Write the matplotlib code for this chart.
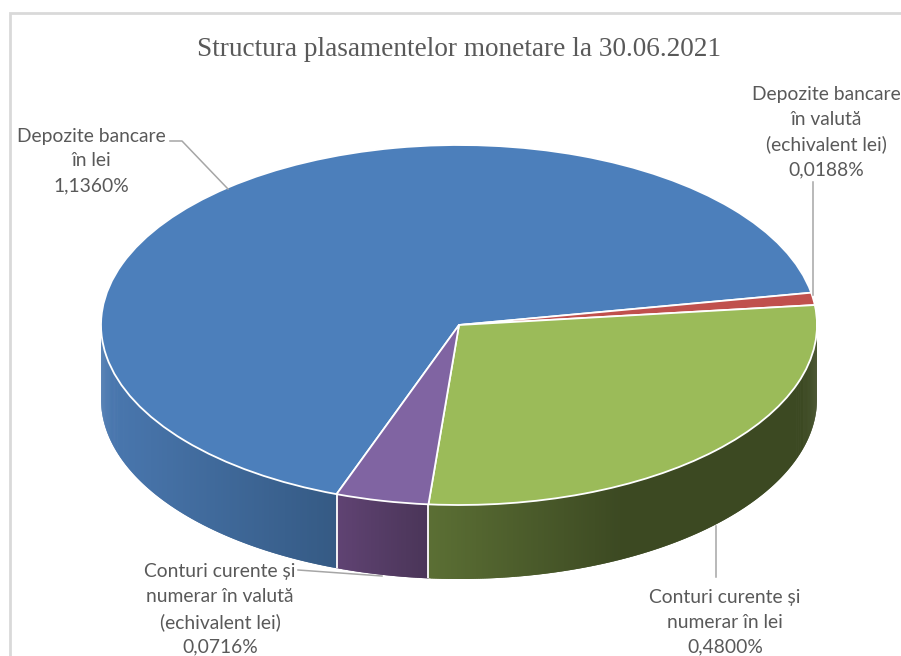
import numpy as np
import matplotlib
matplotlib.use("Agg")
import matplotlib.pyplot as plt
from matplotlib.patches import Polygon
from matplotlib.transforms import Affine2D

title = "Structura plasamentelor monetare la 30.06.2021"
categories = ["Depozite bancare\nîn lei", "Depozite bancare\nîn valută\n(echivalent lei)",
              "Conturi curente și\nnumerar în lei", "Conturi curente și\nnumerar în valută\n(echivalent lei)"]
values = [1.1360, 0.0188, 0.4800, 0.0716]
value_labels = ["1,1360%", "0,0188%", "0,4800%", "0,0716%"]
top_colors = ["#4c7fbb", "#c0504d", "#9bbb59", "#8064a2"]
# wall shading: colour at start of visible wall, colour at end, fraction where ramp ends (left to right)
wall_shades = [("#4a78b0", "#355a84", 1.0), ("#7a3a38", "#7a3a38", 1.0),
               ("#5b6f34", "#3c4922", 0.5), ("#604373", "#4a3558", 1.0)]
label_pos = [(91, 161), (826, 132), (725, 622), (220, 609.5)]
leaders = [[(170, 141), (182, 141), (228, 189)], [(813, 182), (813, 295)],
           [(716, 526), (716, 577)], [(298, 570), (382, 576)]]

CX, CY, RX, RY, DEPTH = 459, 325, 358, 180, 74
TXT = "#595959"

fig = plt.figure(figsize=(9.01, 6.56), dpi=100)
ax = fig.add_axes([0, 0, 1, 1])
wedges, _ = ax.pie(values, startangle=250, counterclock=False, normalize=True,
                   colors=top_colors, wedgeprops=dict(edgecolor="white", linewidth=1.3))
ax.set_aspect("auto")
ax.set_xlim(0, 901)
ax.set_ylim(656, 0)
ax.axis("off")
to_px = Affine2D().scale(RX, -RY).translate(CX, CY) + ax.transData


def hexrgb(c):
    return np.array(matplotlib.colors.to_rgb(c))


def wall(t1, t2, shade):
    """Draw the visible side wall between two pie angles (degrees)."""
    lo, hi = max(t1, 180), min(t2, 360)
    if hi <= lo:
        return
    edges = np.linspace(lo, hi, int((hi - lo) * 3) + 2)
    c0, c1, stop = shade
    xs = np.cos(np.radians(edges))
    span = xs[-1] - xs[0]
    # strips painted left to right, each one overlapping the next, so that no seams show
    for i, a in enumerate(edges[:-1]):
        b = edges[min(i + 2, len(edges) - 1)]
        f = min(((xs[i] + xs[i + 1]) / 2 - xs[0]) / span / stop, 1)
        col = hexrgb(c0) * (1 - f) + hexrgb(c1) * f
        arc = np.radians(np.linspace(a, b, 4))
        px = CX + RX * np.cos(arc)
        py = CY - RY * np.sin(arc)
        outline = list(zip(px, py)) + list(zip(px[::-1], py[::-1] + DEPTH))
        ax.add_patch(Polygon(outline, closed=True, facecolor=col, edgecolor="none", zorder=1))


for w, shade in zip(wedges, wall_shades):
    t1, t2 = w.theta1 % 360, w.theta2 % 360
    if t2 < t1:
        t2 += 360
    wall(t1, t2, shade)
    wall(t1 - 360, t2 - 360, shade)
    w.set_transform(to_px)
    w.set_zorder(3)

# white separators on the wall, at each slice boundary on the front
for w in wedges:
    a = np.radians(w.theta1)
    if np.sin(a) < -0.5:
        x, y = CX + RX * np.cos(a), CY - RY * np.sin(a)
        ax.plot([x, x], [y, y + DEPTH], color="white", lw=1.3, zorder=2, solid_capstyle="butt")

for pts in leaders:
    xs, ys = zip(*pts)
    ax.plot(xs, ys, color="#a6a6a6", lw=1.1, zorder=4)

for cat, val, (x, y) in zip(categories, value_labels, label_pos):
    ax.text(x, y, f"{cat}\n{val}", ha="center", va="center", color=TXT, fontsize=13.85,
            family="Lato", linespacing=1.54, zorder=5)

ax.text(459, 49, title, ha="center", va="center", color=TXT, fontsize=19.6, family="Liberation Serif")

ax.plot([901, 10, 10], [13, 13, 656], color="#d9d9d9", lw=2, zorder=0, solid_joinstyle="miter")

fig.savefig("out.png", dpi=100)
